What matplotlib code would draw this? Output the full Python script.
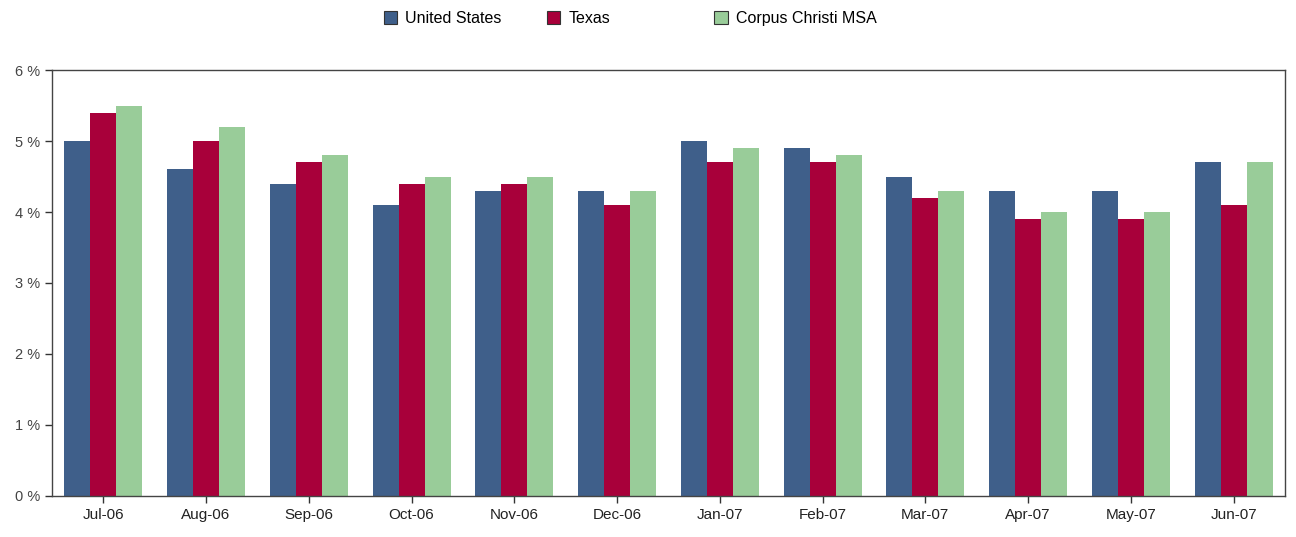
import matplotlib.pyplot as plt
import numpy as np

# Data
months = ['Jul-06', 'Aug-06', 'Sep-06', 'Oct-06', 'Nov-06', 'Dec-06',
          'Jan-07', 'Feb-07', 'Mar-07', 'Apr-07', 'May-07', 'Jun-07']
us = [5.0, 4.6, 4.4, 4.1, 4.3, 4.3, 5.0, 4.9, 4.5, 4.3, 4.3, 4.7]
texas = [5.4, 5.0, 4.7, 4.4, 4.4, 4.1, 4.7, 4.7, 4.2, 3.9, 3.9, 4.1]
corpus = [5.5, 5.2, 4.8, 4.5, 4.5, 4.3, 4.9, 4.8, 4.3, 4.0, 4.0, 4.7]
series_names = ['United States', 'Texas', 'Corpus Christi MSA']
colors = ['#3F5F8A', '#A8003A', '#99CC99']

plt.rcParams['font.family'] = ['Liberation Sans', 'DejaVu Sans']

fig = plt.figure(figsize=(12.96, 5.37), dpi=100)
ax = fig.add_axes([0.040, 0.0764, 0.9515, 0.7932])

x = np.arange(len(months))
w = 0.253
for i, (vals, name, c) in enumerate(zip([us, texas, corpus], series_names, colors)):
    ax.bar(x + (i - 1) * w, vals, width=w, color=c, label=name)

ax.set_xlim(-0.5, len(months) - 0.5)
ax.set_ylim(0, 6)
ax.set_yticks(range(0, 7))
ax.set_yticklabels([f'{v} %' for v in range(0, 7)], fontsize=10.5, color='#444444')
ax.set_xticks(x)
ax.set_xticklabels(months, fontsize=11, color='#222222')
ax.tick_params(axis='both', direction='out', length=5, color='#333333', width=1)
for s in ax.spines.values():
    s.set_color('#444444')
    s.set_linewidth(1)

# legend entries placed one by one (uneven spacing in the original)
legend_x = [0.296, 0.422, 0.551]
for lx, name, c in zip(legend_x, series_names, colors):
    h = plt.Rectangle((0, 0), 1, 1, facecolor=c, edgecolor='#333333', linewidth=0.8)
    fig.legend([h], [name], loc='center left', bbox_to_anchor=(lx, 0.966),
               frameon=False, fontsize=11.5, handlelength=0.85, handleheight=0.85,
               handletextpad=0.5, borderpad=0, borderaxespad=0)

fig.savefig('out.png', dpi=100)
